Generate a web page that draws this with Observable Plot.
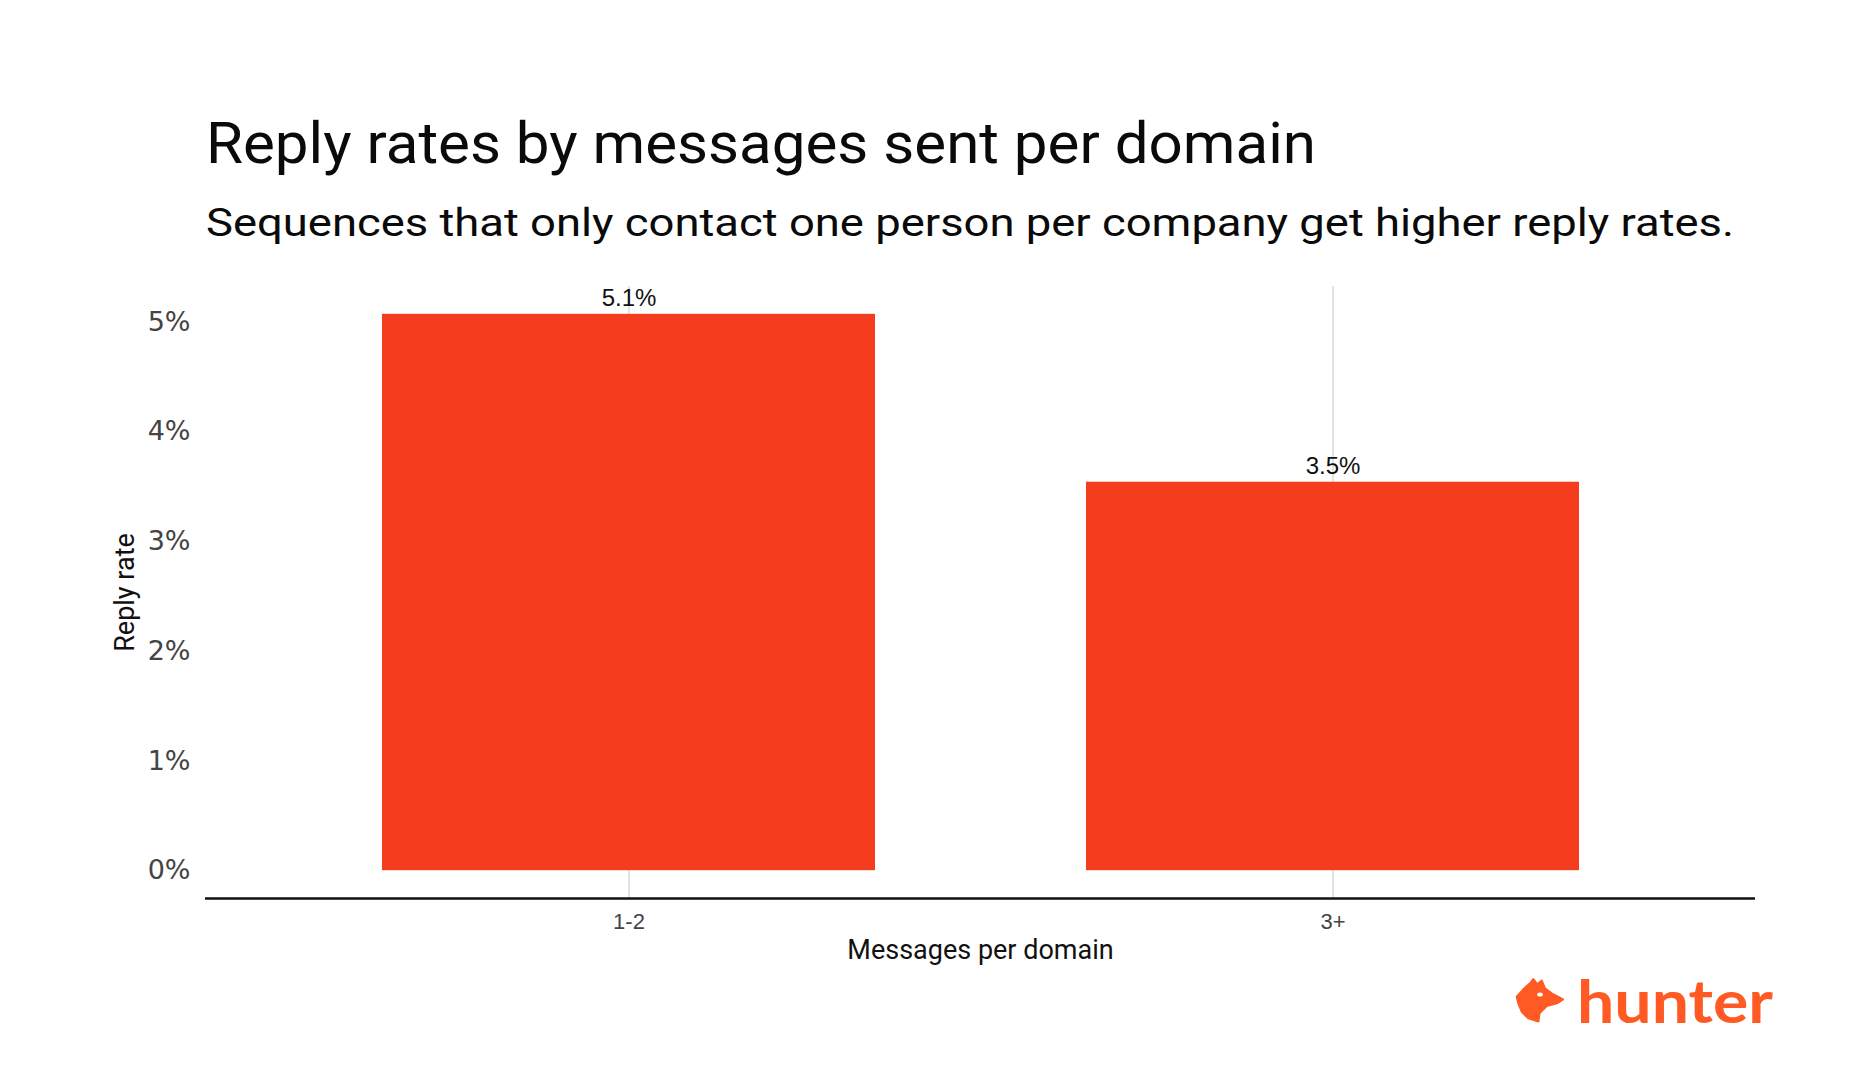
<!DOCTYPE html>
<html>
<head>
<meta charset="utf-8">
<script src="https://cdn.jsdelivr.net/npm/d3@7"></script>
<script src="https://cdn.jsdelivr.net/npm/@observablehq/plot@0.6"></script>
<style>
  html, body { margin: 0; padding: 0; background: #fff; }
  #page { position: relative; width: 1870px; height: 1084px; overflow: hidden; background: #fff; }
  #page > svg { display: block; }
  #footer { position: absolute; left: 0; top: 940px; }
</style>
</head>
<body>
<div id="page"></div>
<script>
// ---- data ----
const categories = ["1-2", "3+"];
const replyRates = [5.07, 3.54];          // percent
const yTicks = [0, 1, 2, 3, 4, 5];
const titleText = "Reply rates by messages sent per domain";
const subtitleText = "Sequences that only contact one person per company get higher reply rates.";
const xLabel = "Messages per domain";
const yLabel = "Reply rate";
const brandText = "hunter";

const data = categories.map((c, i) => ({category: c, rate: replyRates[i]}));

const barColor = "#F53D1E";
const brandColor = "#FF5A24";

const page = document.getElementById("page");
const NS = "http://www.w3.org/2000/svg";

// ---- header (title + subtitle) ----
const header = document.createElementNS(NS, "svg");
header.setAttribute("width", 1870);
header.setAttribute("height", 250);
function addText(svg, str, attrs) {
  const t = document.createElementNS(NS, "text");
  for (const k in attrs) t.setAttribute(k, attrs[k]);
  t.textContent = str;
  svg.appendChild(t);
  return t;
}
addText(header, titleText, {x: 206, y: 163, "font-family": "Roboto, sans-serif", "font-size": 57, fill: "#0a0a0a", textLength: 1110, lengthAdjust: "spacingAndGlyphs"});
addText(header, subtitleText, {x: 206, y: 236, "font-family": "Roboto, sans-serif", "font-size": 39, fill: "#0a0a0a", textLength: 1528, lengthAdjust: "spacingAndGlyphs"});
page.appendChild(header);

// ---- chart ----
const maxV = d3.max(replyRates);
const yDomain = [-0.05 * maxV, 1.05 * maxV];

const chart = Plot.plot({
  width: 1870,
  height: 720,
  marginTop: 36,
  marginBottom: 72,
  marginLeft: 205,
  marginRight: 115,
  style: {background: "#fff", overflow: "visible"},
  x: {domain: categories, paddingInner: 0.3, paddingOuter: 0.25},
  y: {domain: yDomain},
  marks: [
    Plot.gridX(categories, {stroke: "#e3e3e3", strokeOpacity: 1, strokeWidth: 2}),
    Plot.barY(data, {x: "category", y: "rate", fill: barColor}),
    Plot.text(data, {x: "category", y: "rate", text: d => d.rate.toFixed(1) + "%", dy: -16,
      fontSize: 24, fontFamily: "Liberation Sans, Arial, sans-serif", fill: "#111"}),
    Plot.ruleY([yDomain[0]], {stroke: "#111", strokeWidth: 2.5}),
    Plot.axisY({ticks: yTicks, tickFormat: d => d + "%", tickSize: 0, tickPadding: 15, label: null,
      fontSize: 27, fontFamily: "DejaVu Sans, sans-serif", color: "#444"}),
    Plot.axisX({tickSize: 0, tickPadding: 15, label: null,
      fontSize: 22, fontFamily: "Liberation Sans, Arial, sans-serif", color: "#444"}),
    Plot.text([xLabel], {frameAnchor: "bottom", dy: 60, fontSize: 27, fontFamily: "Roboto, sans-serif", fill: "#111"}),
    Plot.text([yLabel], {frameAnchor: "left", textAnchor: "middle", rotate: -90, dx: -80, fontSize: 27, fontFamily: "Roboto, sans-serif", fill: "#111"})
  ]
});
page.appendChild(chart);

// ---- footer (brand) ----
const footer = document.createElementNS(NS, "svg");
footer.setAttribute("id", "footer");
footer.setAttribute("width", 1870);
footer.setAttribute("height", 144);
const g = document.createElementNS(NS, "g");
g.setAttribute("transform", "translate(0,-940)");
footer.appendChild(g);
const fox = document.createElementNS(NS, "path");
fox.setAttribute("d", "M1516.7,996.7 L1523.3,989.3 L1530,983.3 L1533.3,979 L1537.3,984.3 L1541.7,980.5 L1545,988.3 L1551.7,993.3 L1563,999.3 L1557,1003.3 L1546.7,1006 L1539.5,1013.3 L1538.5,1021.5 L1528.3,1018.3 L1521.7,1011.7 L1518.3,1003.3 Z");
fox.setAttribute("fill", brandColor);
fox.setAttribute("stroke", brandColor);
fox.setAttribute("stroke-linejoin", "round");
fox.setAttribute("stroke-width", 2);
g.appendChild(fox);
const eye = document.createElementNS(NS, "ellipse");
eye.setAttribute("cx", 1540); eye.setAttribute("cy", 994.5); eye.setAttribute("rx", 2.8); eye.setAttribute("ry", 2);
eye.setAttribute("fill", "#fff");
g.appendChild(eye);
addText(g, brandText, {x: 1577, y: 1023, "font-family": "Lato, sans-serif", "font-weight": 700, "font-size": 60, fill: brandColor, textLength: 196, lengthAdjust: "spacingAndGlyphs"});
page.appendChild(footer);
</script>
</body>
</html>
